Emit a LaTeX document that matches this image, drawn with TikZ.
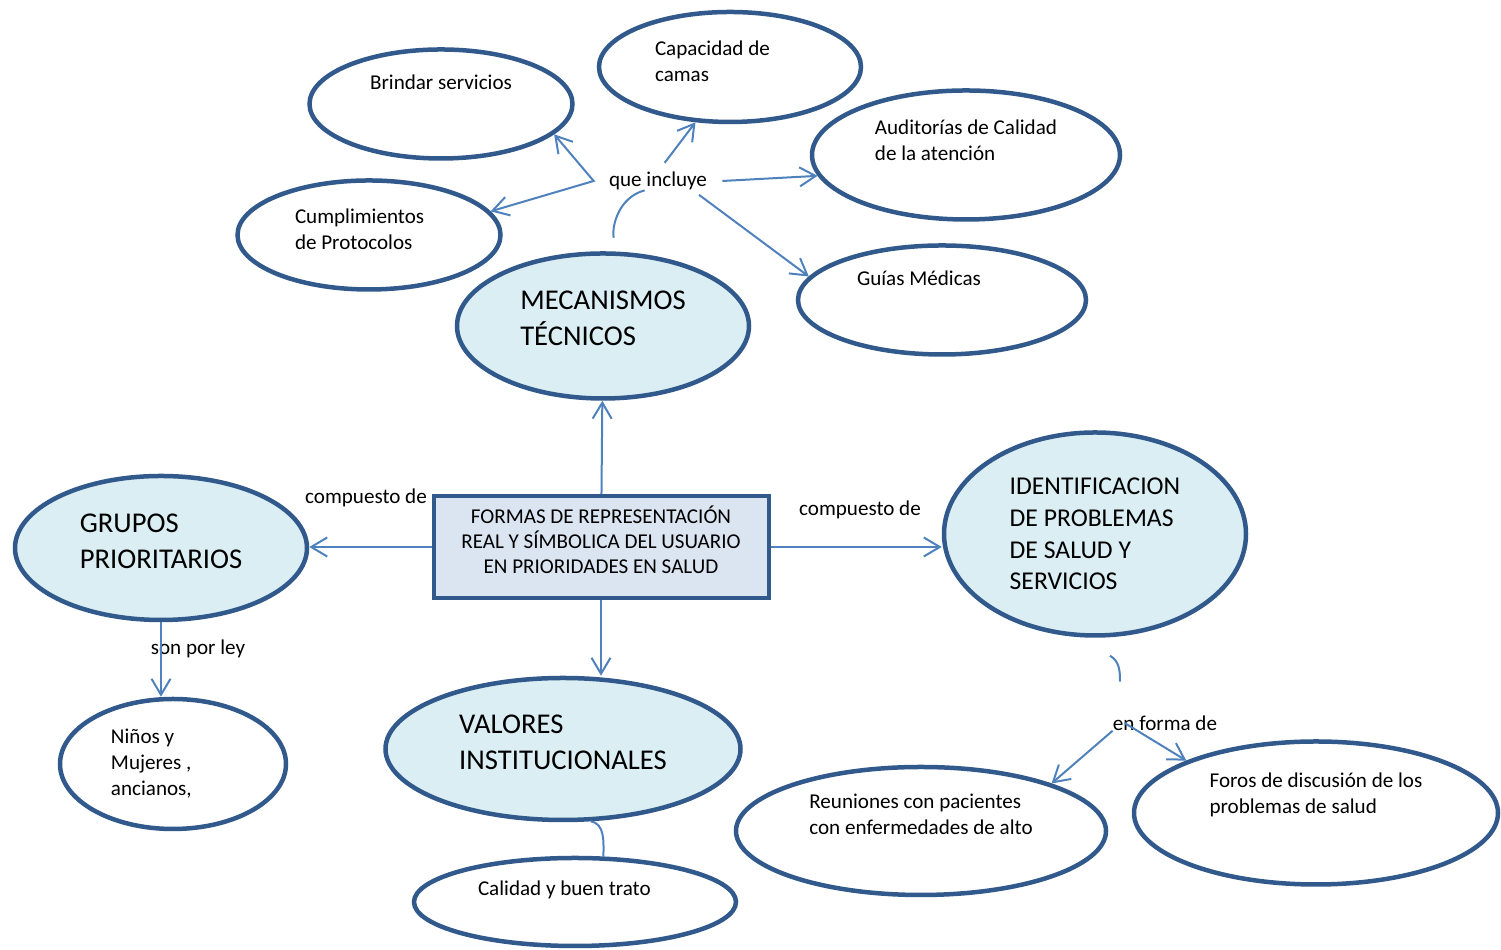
\documentclass[tikz,border=0pt]{standalone}
\usepackage{fontspec}
\setmainfont{Carlito}
\usetikzlibrary{shapes.geometric,arrows.meta,calc,positioning}
\definecolor{bordeblue}{HTML}{31598C}
\definecolor{lineblue}{HTML}{4F81BD}
\definecolor{fillblue}{HTML}{DAEEF3}
\definecolor{boxfill}{HTML}{DBE5F1}

\begin{document}
\begin{tikzpicture}[x=0.2mm, y=0.2mm,
    >={Straight Barb[length=3.2mm,width=3.8mm]},
    bubble/.style={ellipse, draw=bordeblue, line width=0.9mm, align=flush left,
      font=\fontsize{12}{14.8}\selectfont},
    core/.style={bubble, fill=fillblue, font=\fontsize{16.3}{20.5}\selectfont},
    tie/.style={draw=lineblue, line width=0.4mm},
    link/.style={tie, ->},
    tag/.style={font=\fontsize{12}{14.8}\selectfont, inner sep=0pt}]
  \useasboundingbox (0,0) rectangle (1501,950);
  %centro
  \node [draw=bordeblue, fill=boxfill, line width=0.8mm, minimum width=67mm,
    minimum height=20.4mm, align=center, font=\fontsize{12}{14.2}\selectfont,
    text depth=2.8mm] (rep) at (601,403)
    {FORMAS DE REPRESENTACIÓN\\REAL Y SÍMBOLICA DEL USUARIO\\EN PRIORIDADES EN SALUD};
  %arriba
  \node [core, minimum width=58.4mm, minimum height=29mm, text depth=3.3mm] (mec) at (603,624) {MECANISMOS\\TÉCNICOS};
  \node [bubble, minimum width=52.6mm, minimum height=21.8mm, text depth=8.6mm] (brin) at (441,846) {Brindar servicios};
  \node [bubble, minimum width=52.4mm, minimum height=22mm, text width=30mm, text depth=7.4mm] (cap) at (730,883) {Capacidad de\\camas};
  \node [bubble, minimum width=61.6mm, minimum height=25.8mm, text depth=5.8mm] (aud) at (966,795) {Auditorías de Calidad\\de la atención};
  \node [bubble, minimum width=52.6mm, minimum height=21.8mm, text width=29.6mm, text depth=7.4mm] (cum) at (369,715) {Cumplimientos\\de Protocolos};
  \node [bubble, minimum width=57.6mm, minimum height=21.8mm, text width=34mm, text depth=8.6mm] (guia) at (942,650) {Guías Médicas};
  \node [tag, inner xsep=3mm] (qi) at (658,769) {que incluye};
  %izquierda
  \node [core, minimum width=58.4mm, minimum height=28.8mm, text depth=2.9mm] (grp) at (161,402) {GRUPOS\\PRIORITARIOS};
  \node [bubble, minimum width=45.2mm, minimum height=26mm, text width=24.8mm, text depth=11mm] (nin) at (173,186) {Niños y\\Mujeres ,\\ancianos,};
  \node [tag] (cp1) at (366,452) {compuesto de};
  \node [tag] (spl) at (198,301) {son por ley};
  %derecha
  \node [core, font=\fontsize{14.6}{18}\selectfont, minimum width=60.4mm, minimum height=40.6mm] (iden) at (1095,416) {IDENTIFICACION\\DE PROBLEMAS\\DE SALUD Y\\SERVICIOS};
  \node [tag] (cp2) at (860,440) {compuesto de};
  \node [tag] (efd) at (1165,227) {en forma de};
  \node [bubble, minimum width=74mm, minimum height=25.6mm, text depth=6.8mm] (reu) at (921,119) {Reuniones con pacientes\\con enfermedades de alto};
  \node [bubble, minimum width=72.8mm, minimum height=28.6mm, text depth=8mm] (foro) at (1316,137) {Foros de discusión de los\\problemas de salud};
  %abajo
  \node [core, minimum width=71mm, minimum height=28.4mm, text depth=2.9mm] (val) at (563,201) {VALORES\\INSTITUCIONALES};
  \node [bubble, minimum width=64.4mm, minimum height=17.6mm, text width=38.8mm, text depth=5.4mm] (cal) at (575,48) {Calidad y buen trato};

  \draw [link] (rep) -- (mec);
  \draw [link] (rep.west) -- (rep.west -| grp.east);
  \draw [link] (rep.east) -- (rep.east -| iden.west);
  \draw [link] (rep.south) -- (rep.south |- val.north);
  \draw [link] (grp.south) -- (grp.south |- nin.north);
  %que incluye
  \draw [tie, shorten <=2.8mm] (mec.80) to[out=100, in=195] (qi.-145);
  \draw [link, <->] (brin.-15) -- (qi.west) -- (cum.11);
  \draw [link, shorten <=2.2mm] (qi.north) -- (cap.-122);
  \draw [link] (qi.east) -- (aud.188);
  \draw [link, shorten <=1.5mm] (qi.-15) -- (guia.170);
  %en forma de
  \draw [tie] ($(iden.south)+(15,-18)$) to[out=-30, in=90] ($(iden.south)+(25,-44)$);
  \draw [link] (efd.south west) -- (reu.20);
  \draw [link] ($(efd.west)+(12,0)$) -- (foro.158);
  %valores
  \draw [tie] (val.-69) to[out=-10, in=90] (cal.58);
\end{tikzpicture}
\end{document}
